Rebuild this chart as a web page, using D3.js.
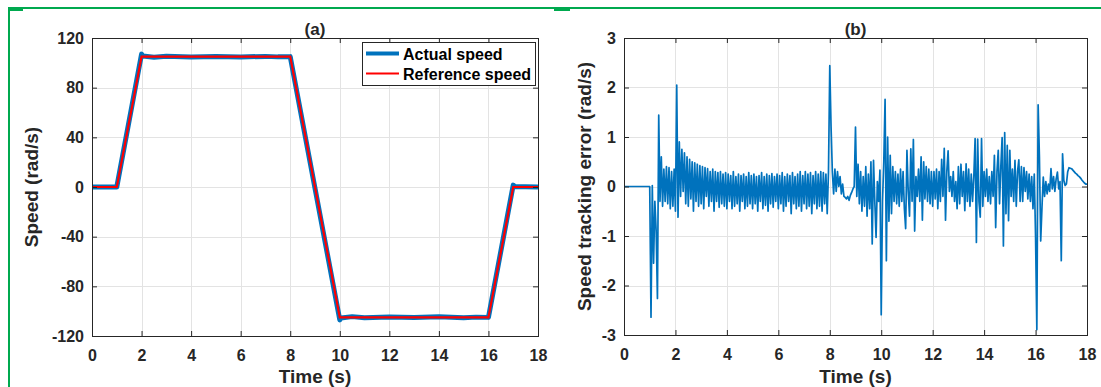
<!DOCTYPE html>
<html>
<head>
<meta charset="utf-8">
<script src="https://cdn.jsdelivr.net/npm/d3@7"></script>
<style>
body { margin: 0; background: #fff; }
svg text { font-family: "Liberation Sans", Arial, sans-serif; font-weight: bold; fill: #262626; }
</style>
</head>
<body>
<div id="chart"></div>
<script>
// ---- data ----
// (a) reference speed, breakpoints
var refTime = [0, 1, 2, 8, 10, 16, 17, 18];
var refSpeed = [0, 0, 105, 105, -105, -105, 0, 0];

// (a) actual speed, breakpoints with the small overshoots
var actTime = [0, 1, 2, 2.05, 2.5, 3, 4, 5, 6, 7, 7.5, 8, 10, 10.05, 10.5, 11, 12, 13, 14, 15, 15.5, 16, 17, 17.05, 17.5, 18];
var actSpeed = [0, 0, 107, 105.5, 104.5, 105.3, 104.6, 105.2, 104.7, 105.2, 104.8, 105, -107, -105.5, -104.4, -105.3, -104.6, -105.2, -104.5, -105.3, -104.8, -105, 1.5, 0.5, 0.2, 0];

// (b) speed tracking error, one sample every 0.05 s (one row per second)
var errStep = 0.05;
var errValues = [
  0, 0, 0, 0, 0, 0, 0, 0, 0, 0, 0, 0, 0, 0, 0, 0, 0, 0, 0, 0,
  0, -2.64, 0.02, -1.55, -0.3, -0.9, -2.26, 1.44, -0.3, 0.6, -0.4, 0.35, -0.3, 0.4, -0.35, 0.38, -0.45, 0.3, -0.4, 0.35,
  -0.5, 2.05, -0.62, 0.9, -0.2, 0.75, -0.1, 0.68, -0.35, 0.6, -0.4, 0.55, -0.25, 0.5, -0.5, 0.48, -0.3, 0.45, -0.4, 0.42,
  -0.35, 0.4, -0.45, 0.38, -0.2, 0.36, -0.4, 0.3, -0.3, 0.35, -0.5, 0.3, -0.3, 0.28, -0.42, 0.3, -0.35, 0.25, -0.4, 0.28,
  -0.45, 0.25, -0.3, 0.22, -0.45, 0.3, -0.4, 0.2, -0.35, 0.25, -0.5, 0.22, -0.3, 0.25, -0.45, 0.2, -0.4, 0.28, -0.35, 0.22,
  -0.45, 0.25, -0.35, 0.2, -0.5, 0.22, -0.3, 0.28, -0.45, 0.2, -0.38, 0.25, -0.5, 0.22, -0.35, 0.26, -0.42, 0.2, -0.3, 0.25,
  -0.45, 0.22, -0.35, 0.28, -0.5, 0.2, -0.4, 0.25, -0.3, 0.22, -0.55, 0.28, -0.35, 0.2, -0.45, 0.25, -0.4, 0.3, -0.5, 0.22,
  -0.35, 0.3, -0.45, 0.25, -0.4, 0.28, -0.55, 0.22, -0.35, 0.3, -0.45, 0.25, -0.4, 0.3, -0.5, 0.28, -0.35, 0.25, -0.55, 0.3,
  2.44, 1.2, 0.3, -0.15, 0.35, -0.1, 0.3, 0.0, 0.2, -0.15, 0.05, -0.2, -0.22, -0.25, -0.2, -0.28, -0.18, -0.12, -0.05, 0.0,
  1.2, -0.2, 0.45, -0.35, 0.3, -0.5, 0.2, -0.4, 0.4, -0.6, 0.25, -0.45, 0.5, -1.16, 0.53, -0.3, -1.03, 0.1, -0.3, 0.33,
  -2.59, -0.3, 0.5, 1.76, -1.5, 1.0, -0.7, 0.63, -0.55, 0.4, -0.3, 0.3, -0.35, 0.25, -0.4, 0.35, -0.3, 0.3, -0.45, -0.85,
  0.73, -0.1, -0.6, 0.76, -0.3, 0.95, -0.9, 0.2, -0.2, 0.35, -0.3, 0.6, -0.68, 0.5, -0.25, 0.4, -0.3, 0.35, -0.35, 0.3,
  -0.4, 0.3, -0.25, 0.35, -0.45, 0.3, -0.3, 0.55, -0.2, 0.77, -0.68, 0.3, 0.72, -0.1, 0.2, -0.2, 0.3, -0.3, 0.1, -0.45,
  0.4, -0.35, 0.45, -0.2, 0.3, -0.49, 0.46, -0.3, 0.35, -0.4, 0.25, -0.3, 0.2, 0.97, -1.13, 0.96, -0.3, -0.62, 0.97, -0.4,
  0.3, -0.2, 0.35, -0.3, 0.2, -0.35, 0.3, -0.2, 0.63, -0.83, 0.3, 0.73, -0.35, 0.4, 0.99, -1.2, 1.09, -0.55, 0.83, -0.69,
  0.73, -0.2, 0.35, -0.3, 0.53, -0.4, 0.3, 0.54, -0.3, 0.4, -0.3, 0.38, -0.1, 0.3, -0.25, 0.25, -0.3, 0.2, -0.45, 0.25,
  -1.0, -2.89, 1.65, 0.6, -1.1, -0.42, 0.19, -0.2, 0.1, -0.15, 0.05, -0.1, 0.36, -0.05, 0.2, -0.1, 0.15, 0.29, -0.05, 0.1,
  -1.5, 0.66, 0.12, 0.02, 0.05, 0.3, 0.38, 0.37, 0.36, 0.33, 0.3, 0.27, 0.25, 0.22, 0.2, 0.17, 0.13, 0.1, 0.07, 0.05,
  0.05
];

// ticks
var timeTicks = [0, 2, 4, 6, 8, 10, 12, 14, 16, 18];
var speedTicks = [-120, -80, -40, 0, 40, 80, 120];
var errTicks = [-3, -2, -1, 0, 1, 2, 3];
var legendLabels = ["Actual speed", "Reference speed"];

// ---- layout ----
var width = 1101;
var height = 387;
var blue = "#0072bd";
var red = "#ff0000";
var gridColor = "#e3e3e3";
var axisColor = "#262626";

// plain numbers with a hyphen minus, like MATLAB
var tickFmt = function (d) { return String(d); };

var svg = d3.select("#chart")
  .append("svg")
  .attr("width", width)
  .attr("height", height);

svg.append("rect").attr("width", width).attr("height", height).attr("fill", "#fff");

// green frame of the page
var frame = svg.append("g").attr("fill", "#00a94f");
frame.append("rect").attr("x", 8).attr("y", 7).attr("width", width - 8).attr("height", 2);
frame.append("rect").attr("x", 8).attr("y", 7).attr("width", 2).attr("height", height - 7);
frame.append("rect").attr("x", 8).attr("y", 9).attr("width", 15).attr("height", 2);
frame.append("rect").attr("x", 554).attr("y", 9).attr("width", 16).attr("height", 2);

// draws one MATLAB-like box with grid, inward ticks on all sides and tick labels
function makePanel(id, box, yDomain, yTicks, title, yLabel, labelX) {
  var x = d3.scaleLinear().domain([0, 18]).range([box.left, box.right]);
  var y = d3.scaleLinear().domain(yDomain).range([box.bottom, box.top]);
  var g = svg.append("g").attr("id", id);

  // grid
  g.append("g").selectAll("line")
    .data(timeTicks.slice(1, -1))
    .enter().append("line")
    .attr("x1", function (d) { return Math.round(x(d)) + 0.5; })
    .attr("x2", function (d) { return Math.round(x(d)) + 0.5; })
    .attr("y1", box.top).attr("y2", box.bottom)
    .attr("stroke", gridColor).attr("stroke-width", 1);
  g.append("g").selectAll("line")
    .data(yTicks.slice(1, -1))
    .enter().append("line")
    .attr("y1", function (d) { return Math.round(y(d)) + 0.5; })
    .attr("y2", function (d) { return Math.round(y(d)) + 0.5; })
    .attr("x1", box.left).attr("x2", box.right)
    .attr("stroke", gridColor).attr("stroke-width", 1);

  // clip for the data
  svg.append("clipPath").attr("id", id + "-clip")
    .append("rect")
    .attr("x", box.left).attr("y", box.top)
    .attr("width", box.right - box.left).attr("height", box.bottom - box.top);
  var plot = g.append("g").attr("clip-path", "url(#" + id + "-clip)");

  // axes (ticks pointing inward)
  var bottomAxis = d3.axisBottom(x).tickValues(timeTicks).tickSizeInner(-5).tickSizeOuter(0).tickPadding(14).tickFormat(tickFmt);
  var topAxis = d3.axisTop(x).tickValues(timeTicks).tickSizeInner(-5).tickSizeOuter(0).tickFormat("");
  var leftAxis = d3.axisLeft(y).tickValues(yTicks).tickSizeInner(-5).tickSizeOuter(0).tickPadding(8).tickFormat(tickFmt);
  var rightAxis = d3.axisRight(y).tickValues(yTicks).tickSizeInner(-5).tickSizeOuter(0).tickFormat("");

  var axes = g.append("g");
  axes.append("g").attr("transform", "translate(0," + box.bottom + ")").call(bottomAxis);
  axes.append("g").attr("transform", "translate(0," + box.top + ")").call(topAxis);
  axes.append("g").attr("transform", "translate(" + box.left + ",0)").call(leftAxis);
  axes.append("g").attr("transform", "translate(" + box.right + ",0)").call(rightAxis);
  axes.selectAll(".domain").remove();
  axes.selectAll(".tick line").attr("stroke", axisColor);
  axes.selectAll(".tick text")
    .style("font-size", "16px")
    .attr("fill", axisColor);

  // box
  g.append("rect")
    .attr("x", box.left + 0.5).attr("y", box.top + 0.5)
    .attr("width", box.right - box.left).attr("height", box.bottom - box.top)
    .attr("fill", "none").attr("stroke", axisColor).attr("stroke-width", 1);

  // title and axis labels
  var cx = (box.left + box.right) / 2;
  g.append("text").attr("x", cx).attr("y", 35)
    .attr("text-anchor", "middle").style("font-size", "17px").text(title);
  g.append("text").attr("x", cx).attr("y", 383)
    .attr("text-anchor", "middle").style("font-size", "19px").text("Time (s)");
  g.append("text")
    .attr("transform", "translate(" + labelX + "," + ((box.top + box.bottom) / 2) + ") rotate(-90)")
    .attr("text-anchor", "middle").style("font-size", "19px").text(yLabel);

  return { x: x, y: y, g: g, plot: plot };
}

// ---- panel (a) ----
var pa = makePanel("pa", { left: 92, right: 538, top: 38, bottom: 336 }, [-120, 120], speedTicks,
  "(a)", "Speed (rad/s)", 38);

var speedLine = d3.line()
  .x(function (d) { return pa.x(d[0]); })
  .y(function (d) { return pa.y(d[1]); });

pa.plot.append("path")
  .datum(d3.zip(actTime, actSpeed))
  .attr("d", speedLine)
  .attr("fill", "none")
  .attr("stroke", blue)
  .attr("stroke-width", 5)
  .attr("stroke-linejoin", "round");

pa.plot.append("path")
  .datum(d3.zip(refTime, refSpeed))
  .attr("d", speedLine)
  .attr("fill", "none")
  .attr("stroke", red)
  .attr("stroke-width", 2.2);

// legend
var legend = pa.g.append("g");
legend.append("rect")
  .attr("x", 362.5).attr("y", 42.5).attr("width", 173).attr("height", 43)
  .attr("fill", "#fff").attr("stroke", axisColor).attr("stroke-width", 1);
var legendColors = [blue, red];
var legendWidths = [4, 2];
legend.selectAll("line")
  .data(legendLabels)
  .enter().append("line")
  .attr("x1", 366).attr("x2", 399)
  .attr("y1", function (d, i) { return 53.5 + i * 20; })
  .attr("y2", function (d, i) { return 53.5 + i * 20; })
  .attr("stroke", function (d, i) { return legendColors[i]; })
  .attr("stroke-width", function (d, i) { return legendWidths[i]; });
legend.selectAll("text")
  .data(legendLabels)
  .enter().append("text")
  .attr("x", 403)
  .attr("y", function (d, i) { return 59.5 + i * 20; })
  .style("font-size", "16px")
  .style("fill", "#000")
  .text(function (d) { return d; });

// ---- panel (b) ----
var pb = makePanel("pb", { left: 624, right: 1087, top: 38, bottom: 335 }, [-3, 3], errTicks,
  "(b)", "Speed tracking error (rad/s)", 591);

var errLine = d3.line()
  .x(function (d, i) { return pb.x(i * errStep); })
  .y(function (d) { return pb.y(d); });

pb.plot.append("path")
  .datum(errValues)
  .attr("d", errLine)
  .attr("fill", "none")
  .attr("stroke", blue)
  .attr("stroke-width", 1.7)
  .attr("stroke-linejoin", "round");
</script>
</body>
</html>
